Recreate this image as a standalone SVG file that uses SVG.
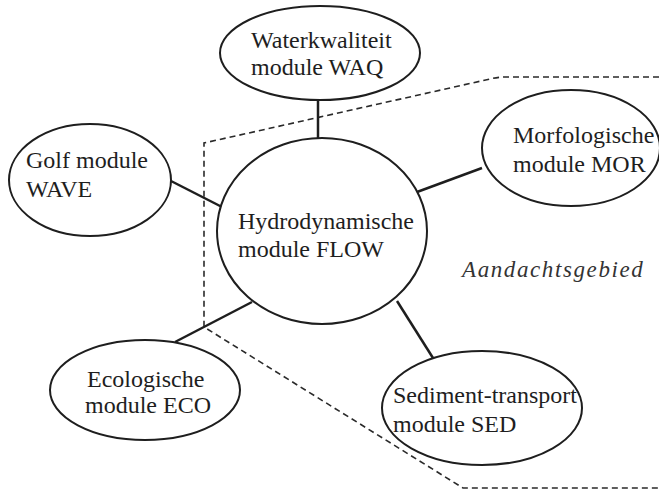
<svg xmlns="http://www.w3.org/2000/svg" width="659" height="490" viewBox="0 0 659 490">
  <style>
    .node ellipse { fill: #ffffff; stroke: #1e1e1e; stroke-width: 2; }
    .node text { font-family: "Liberation Serif", "Times New Roman", serif; font-size: 24px; fill: #1e1e1e; }
    .link { stroke: #1e1e1e; stroke-width: 2.5; fill: none; }
    .zone { stroke: #2a2a2a; stroke-width: 1.6; stroke-dasharray: 6 4; fill: none; }
    .zone-label { font-family: "Liberation Serif", "Times New Roman", serif; font-style: italic; font-size: 23px; letter-spacing: 1.6px; fill: #333333; }
  </style>
  <rect width="659" height="490" fill="#ffffff"/>

  <!-- area of interest boundary -->
  <g id="aandachtsgebied">
    <path class="zone" d="M 659 77 L 506 77 Q 498 77 490 79 L 204 143 L 204 327 L 463 488 L 659 488"/>
    <text class="zone-label" x="462" y="277">Aandachtsgebied</text>
  </g>

  <!-- connectors between modules -->
  <g id="connectors">
    <line class="link" x1="318" y1="100" x2="318" y2="138"/>
    <line class="link" x1="171" y1="181" x2="222" y2="207"/>
    <line class="link" x1="417" y1="192" x2="482" y2="168"/>
    <line class="link" x1="175" y1="342" x2="252" y2="302"/>
    <line class="link" x1="397" y1="301" x2="433" y2="358"/>
  </g>

  <g id="waq" class="node">
    <ellipse cx="320" cy="53" rx="100" ry="47"/>
    <text x="251" y="48">Waterkwaliteit</text>
    <text x="251" y="75">module WAQ</text>
  </g>

  <g id="wave" class="node">
    <ellipse cx="90" cy="180" rx="81" ry="56"/>
    <text x="26" y="168">Golf module</text>
    <text x="26" y="197">WAVE</text>
  </g>

  <g id="flow" class="node">
    <ellipse cx="322" cy="231" rx="105" ry="93"/>
    <text x="238" y="229">Hydrodynamische</text>
    <text x="238" y="257">module FLOW</text>
  </g>

  <g id="mor" class="node">
    <ellipse cx="571" cy="148" rx="89" ry="58"/>
    <text x="513" y="143">Morfologische</text>
    <text x="513" y="172">module MOR</text>
  </g>

  <g id="eco" class="node">
    <ellipse cx="145" cy="390" rx="95" ry="50"/>
    <text x="87" y="387">Ecologische</text>
    <text x="85" y="413">module ECO</text>
  </g>

  <g id="sed" class="node">
    <ellipse cx="482" cy="408" rx="100" ry="57"/>
    <text x="393" y="403">Sediment-transport</text>
    <text x="393" y="432">module SED</text>
  </g>
</svg>
